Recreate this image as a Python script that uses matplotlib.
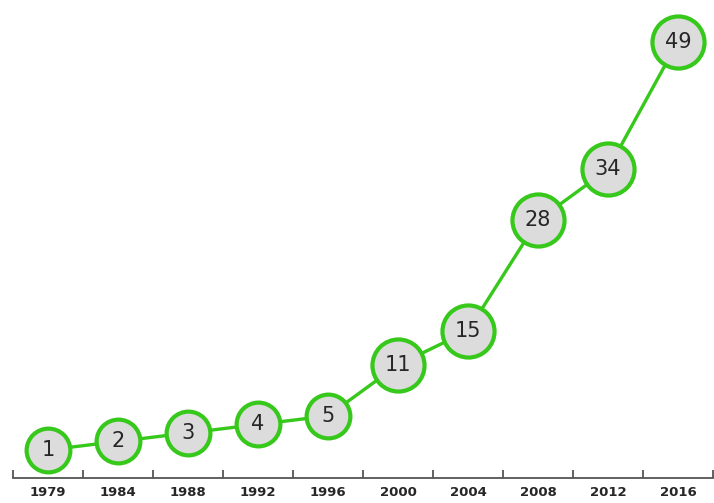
import numpy as np
import matplotlib.pyplot as plt

years = ['1979', '1984', '1988', '1992', '1996', '2000', '2004', '2008', '2012', '2016']
counts = [1, 2, 3, 4, 5, 11, 15, 28, 34, 49]

green = '#36c81a'
x = np.arange(len(years))

fig = plt.figure(figsize=(7.14, 5.03), dpi=100)
ax = fig.add_axes([13/714, 25/503, 700/714, 478/503])

ax.plot(x, counts, color=green, lw=2.4, zorder=1)
for xi, c in zip(x, counts):
    ms = 31.5 if c < 10 else 37.5
    ax.plot(xi, c, 'o', ms=ms, mfc='#dcdcdc', mec=green, mew=3.0, zorder=2)
    ax.text(xi, c, str(c), ha='center', va='center', fontsize=15,
            color='#262626', zorder=3)

ax.set_xlim(-0.5, len(years) - 0.5)
ax.set_ylim(-2.3, 53.9)

for s in ['top', 'right', 'left']:
    ax.spines[s].set_visible(False)
ax.spines['bottom'].set_color('#555555')
ax.spines['bottom'].set_linewidth(1.3)
ax.set_yticks([])

ax.set_xticks(x)
ax.set_xticklabels(years, fontsize=9.5, color='#262626', fontweight='semibold')
ax.tick_params(axis='x', which='major', length=0, pad=6)
ax.set_xticks(np.arange(len(years) + 1) - 0.5, minor=True)
ax.tick_params(axis='x', which='minor', direction='in', length=6,
               width=1.3, color='#555555')

fig.savefig('out.png', dpi=100)
